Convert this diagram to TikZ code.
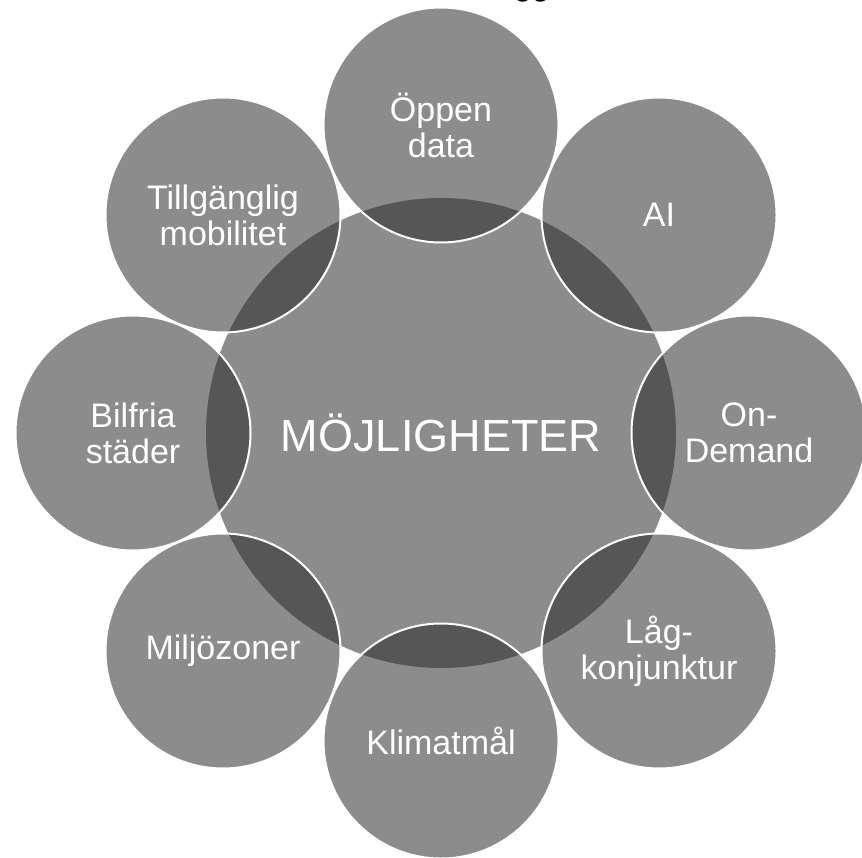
\documentclass[tikz,border=0pt]{standalone}
\usepackage{fontspec}
\setmainfont{Liberation Sans}
\definecolor{bubgray}{RGB}{140,140,140}
\definecolor{lensgray}{RGB}{86,86,86}
\tikzset{
  outer/.style={circle, inner sep=0pt, minimum size=235pt, fill=bubgray, text=white, align=center,
    font=\fontsize{34}{36}\selectfont},
  hub/.style={circle, inner sep=0pt, minimum size=470pt, fill=bubgray, text=white,
    font=\fontsize{45}{50}\selectfont},
  rim/.style={draw=white, line width=2pt},
  lens/.style={fill=lensgray}
}
\begin{document}
\begin{tikzpicture}[x=1pt,y=-1pt]
\useasboundingbox (0,0) rectangle (862,858);
\clip (0,0) rectangle (862,858);
\node[anchor=base west, inner sep=0pt, text=black, font=\fontsize{32}{36}\selectfont] (title) at (514,-4.5) {gg};
\node[hub] (m) at (441,433) {MÖJLIGHETER};
\node[outer] (n1) at (441,125) {Öppen\\data};
\node[outer] (n2) at (659,215) {AI};
\node[outer] (n3) at (749,433) {On-\\Demand};
\node[outer] (n4) at (659,651) {Låg-\\konjunktur};
\node[outer] (n5) at (441,741) {Klimatmål};
\node[outer] (n6) at (223,651) {Miljözoner};
\node[outer] (n7) at (133,433) {Bilfria\\städer};
\node[outer] (n8) at (223,215) {Tillgänglig\\mobilitet};
\begin{scope}
  \clip (m.center) circle[radius=235pt];
  \foreach \n in {n1,n2,n3,n4,n5,n6,n7,n8}
    \fill[lens] (\n.center) circle[radius=117.5pt];
\end{scope}
\foreach \n in {n1,n2,n3,n4,n5,n6,n7,n8}
  \draw[rim] (\n.center) circle[radius=117.5pt];
\end{tikzpicture}
\end{document}
